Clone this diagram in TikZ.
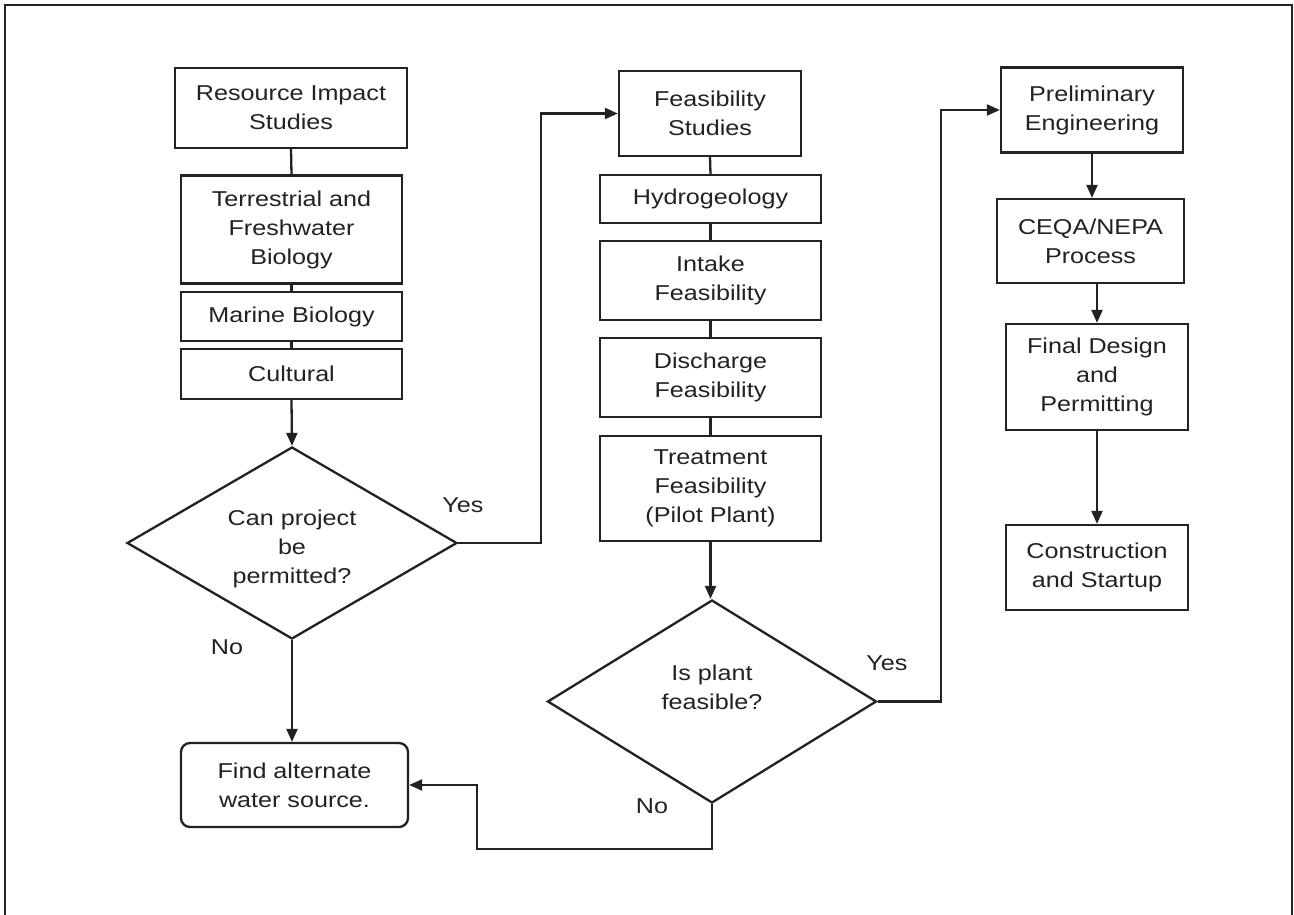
\documentclass[tikz,border=0pt]{standalone}
\usepackage{fontspec}
\setmainfont{Liberation Sans}[FakeStretch=1.17]
\usetikzlibrary{shapes.geometric,arrows.meta}
\definecolor{ink}{HTML}{222222}
\begin{document}
\begin{tikzpicture}[x=1pt,y=-1pt,
  every node/.style={font=\fontsize{21.5}{29}\selectfont, text=ink},
  box/.style={draw=ink, line width=2.3pt, align=center, inner sep=0pt},
  dec/.style={draw=ink, line width=2.3pt, shape=diamond, aspect=1.7, inner sep=0pt},
  conn/.style={draw=ink, line width=2.3pt},
  arr/.style={conn, -{Triangle[length=13pt,width=11pt]}},
  lbl/.style={inner sep=0pt, align=center}]
\useasboundingbox (0,0) rectangle (1294,915);
\fill[white] (0,0) rectangle (1294,915);
\draw[ink, line width=2.8pt] (5,915) -- (5,5) -- (1292,5) -- (1292,915);

% left column
\node[box, minimum width=232pt, minimum height=80pt] (ris) at (291,108) {Resource Impact\\Studies};
\node[box, minimum width=221pt, minimum height=108pt] (terr) at (291.5,229.5) {Terrestrial and\\Freshwater\\Biology};
\node[box, minimum width=221pt, minimum height=49pt] (mar) at (291.5,316.5) {Marine Biology};
\node[box, minimum width=221pt, minimum height=50pt] (cult) at (291.5,374) {Cultural};
\node[dec, minimum width=330pt, minimum height=192pt] (d1) at (292,543) {};
\node[lbl] (d1t) at (292,549) {Can project\\be\\permitted?};
\node[box, rounded corners=9pt, minimum width=227pt, minimum height=84pt] (fas) at (294.5,785) {Find alternate\\water source.};

% middle column
\node[box, minimum width=182pt, minimum height=85pt] (feas) at (710,113.5) {Feasibility\\Studies};
\node[box, minimum width=221pt, minimum height=48pt] (hyd) at (710.5,199) {Hydrogeology};
\node[box, minimum width=221pt, minimum height=79pt] (intk) at (710.5,280.5) {Intake\\Feasibility};
\node[box, minimum width=221pt, minimum height=79pt] (disc) at (710.5,377.5) {Discharge\\Feasibility};
\node[box, minimum width=221pt, minimum height=105pt] (treat) at (710.5,488.5) {Treatment\\Feasibility\\(Pilot Plant)};
\node[dec, minimum width=329pt, minimum height=203pt] (d2) at (712,701.5) {};
\node[lbl] (d2t) at (712,687) {Is plant\\feasible?};

% right column
\node[box, minimum width=182pt, minimum height=85pt] (prel) at (1092,110) {Preliminary\\Engineering};
\node[box, minimum width=187pt, minimum height=84pt] (ceqa) at (1090.5,241) {CEQA/NEPA\\Process};
\node[box, minimum width=182pt, minimum height=106pt] (fin) at (1097,377) {Final Design\\and\\Permitting};
\node[box, minimum width=182pt, minimum height=85pt] (cons) at (1097,567.5) {Construction\\and Startup};

% labels
\node[lbl] (y1) at (463,505) {Yes};
\node[lbl] (n1) at (227,647) {No};
\node[lbl] (y2) at (887,663) {Yes};
\node[lbl] (n2) at (652,806) {No};

\coordinate (nb) at (477,849);

% connectors
\draw[conn] (ris.south) -- (terr.north);
\draw[conn] (terr.south) -- (mar.north);
\draw[conn] (mar.south) -- (cult.north);
\draw[arr] (cult.south) -- (d1.north);
\draw[arr] (d1.south) -- (d1.south |- fas.north);
\draw[arr] (d1.east) -- ++(83,0) |- (feas.west);

\draw[conn] (feas.south) -- (hyd.north);
\draw[conn] (hyd.south) -- (intk.north);
\draw[conn] (intk.south) -- (disc.north);
\draw[conn] (disc.south) -- (treat.north);
\draw[arr] (treat.south) -- (treat.south |- d2.north);
\draw[arr] (d2.east) -- ++(63,0) |- (prel.west);
\draw[arr] (d2.south) |- (nb) |- (fas.east);

\draw[arr] (prel.south) -- (prel.south |- ceqa.north);
\draw[arr] (fin.north |- ceqa.south) -- (fin.north);
\draw[arr] (fin.south) -- (cons.north);
\end{tikzpicture}
\end{document}
